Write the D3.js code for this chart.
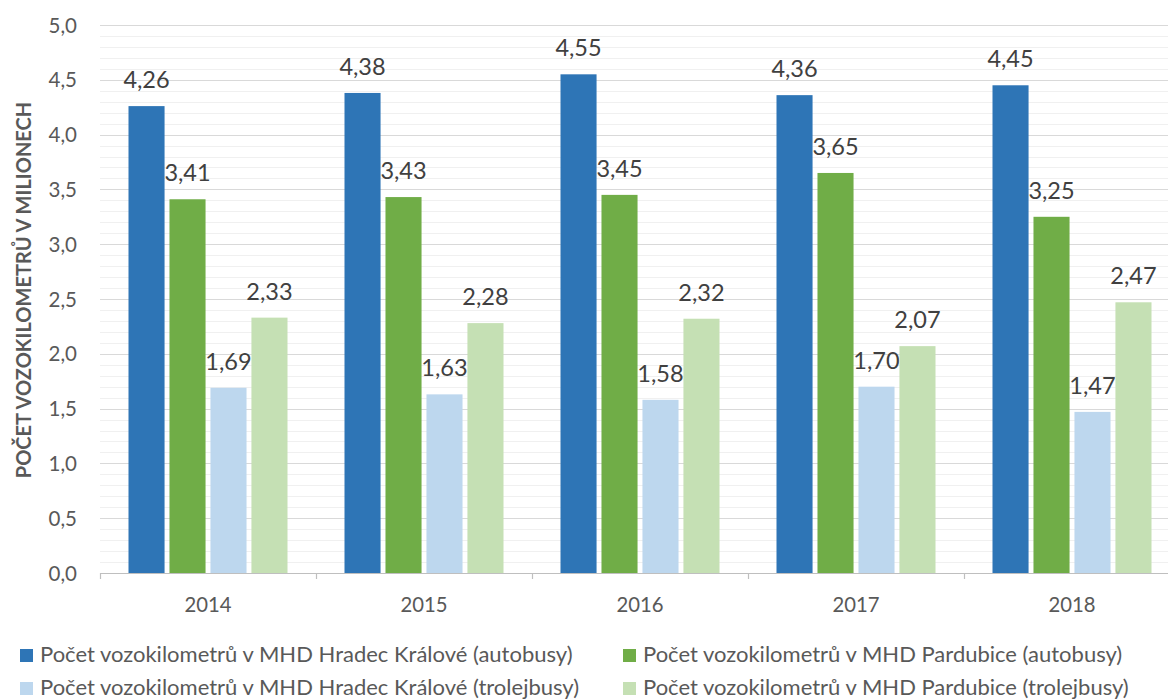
<!DOCTYPE html>
<html><head><meta charset="utf-8">
<script src="https://cdn.jsdelivr.net/npm/d3@7"></script>
<style>body{margin:0;background:#fff}svg{display:block}</style>
</head><body>
<svg id="c" width="1168" height="699"></svg>
<script>
const years = ["2014","2015","2016","2017","2018"];
const seriesNames = [
  "Počet vozokilometrů v MHD Hradec Králové (autobusy)",
  "Počet vozokilometrů v MHD Pardubice (autobusy)",
  "Počet vozokilometrů v MHD Hradec Králové (trolejbusy)",
  "Počet vozokilometrů v MHD Pardubice (trolejbusy)"
];
const hkBus = [4.26,4.38,4.55,4.36,4.45];
const paBus = [3.41,3.43,3.45,3.65,3.25];
const hkTrol = [1.69,1.63,1.58,1.70,1.47];
const paTrol = [2.33,2.28,2.32,2.07,2.47];
const colors = ["#2E75B6","#70AD47","#BDD7EE","#C5E0B4"];
const yTicks = [0,0.5,1,1.5,2,2.5,3,3.5,4,4.5,5];
const yTitle = "POČET VOZOKILOMETRŮ V MILIONECH";

const series = [hkBus, paBus, hkTrol, paTrol];
const svg = d3.select("#c");
const font = "Lato, 'Open Sans', sans-serif";
const fmt = v => d3.format(".1f")(v).replace(".", ",");
const fmt2 = v => d3.format(".2f")(v).replace(".", ",");

const x = d3.scaleBand().domain(years).range([100, 1180]).paddingInner(0).paddingOuter(0);
const y = d3.scaleLinear().domain([0,5]).range([573, 25]);
const groupW = 159;
const x1 = d3.scaleBand().domain(d3.range(4)).range([0, groupW]).paddingInner(0.12);

// minor gridlines
const minor = d3.range(0, 5.01, 0.1).filter(v => Math.abs(v*2 - Math.round(v*2)) > 1e-6);
svg.append("g").selectAll("line").data(minor).join("line")
  .attr("x1",100).attr("x2",1168).attr("y1",d=>Math.round(y(d))+0.5).attr("y2",d=>Math.round(y(d))+0.5)
  .attr("stroke","#f0f0f0").attr("stroke-width",1.2);
svg.append("g").selectAll("line").data(yTicks.slice(1)).join("line")
  .attr("x1",100).attr("x2",1168).attr("y1",d=>Math.round(y(d))+0.5).attr("y2",d=>Math.round(y(d))+0.5)
  .attr("stroke","#d9d9d9").attr("stroke-width",1.2);

// bars
series.forEach((s, i) => {
  const g = svg.append("g");
  g.selectAll("rect").data(s).join("rect")
    .attr("x",(d,j)=> x(years[j]) + (x.bandwidth()-groupW)/2 + x1(i))
    .attr("width", x1.bandwidth())
    .attr("y", d=>y(d)).attr("height", d=>y(0)-y(d))
    .attr("fill", colors[i]);
  g.selectAll("text").data(s).join("text")
    .attr("x",(d,j)=> x(years[j]) + (x.bandwidth()-groupW)/2 + x1(i) + x1.bandwidth()/2)
    .attr("y", d=>y(d)-18)
    .attr("text-anchor","middle").attr("font-family",font).attr("font-size",23.5)
    .attr("fill","#404040").text(d=>fmt2(d));
});

// x axis
const xg = svg.append("g").attr("transform",`translate(0,${y(0)})`);
xg.append("line").attr("x1",100).attr("x2",1168).attr("y1",0.5).attr("y2",0.5).attr("stroke","#bfbfbf").attr("stroke-width",1.2);
xg.selectAll("line.tk").data(years.map(d=>x(d)).concat([1180])).join("line").attr("class","tk")
  .attr("x1",d=>Math.round(d)+0.5).attr("x2",d=>Math.round(d)+0.5).attr("y1",0).attr("y2",6)
  .attr("stroke","#bfbfbf").attr("stroke-width",1.2);
xg.selectAll("text.yl").data(years).join("text").attr("class","yl")
  .attr("x",d=>x(d)+x.bandwidth()/2).attr("y",39).attr("text-anchor","middle")
  .attr("font-family",font).attr("font-size",20.3).attr("fill","#595959").text(d=>d);

// y labels
const yAxis = d3.axisLeft(y).tickValues(yTicks).tickFormat(fmt).tickSize(0).tickPadding(0);
const yg = svg.append("g").attr("transform","translate(77,0)").call(yAxis);
yg.select(".domain").remove();
yg.selectAll("text").attr("font-family",font).attr("font-size",20.5).attr("fill","#595959").attr("dy","0.35em");

// y title
svg.append("text").attr("transform","translate(31,290) rotate(-90)").attr("text-anchor","middle")
  .attr("font-family",font).attr("font-size",20).attr("font-weight","bold").attr("fill","#595959").text(yTitle);

// legend
const legPos = [[20,662],[623,662],[20,695],[623,695]];
seriesNames.forEach((n,i)=>{
  const [lx,ly] = legPos[i];
  svg.append("rect").attr("x",lx).attr("y",ly-13).attr("width",13).attr("height",13).attr("fill",colors[i]);
  svg.append("text").attr("x",lx+20).attr("y",ly).attr("font-family",font).attr("font-size",22)
    .attr("fill","#595959").text(n);
});
</script>
</body></html>
